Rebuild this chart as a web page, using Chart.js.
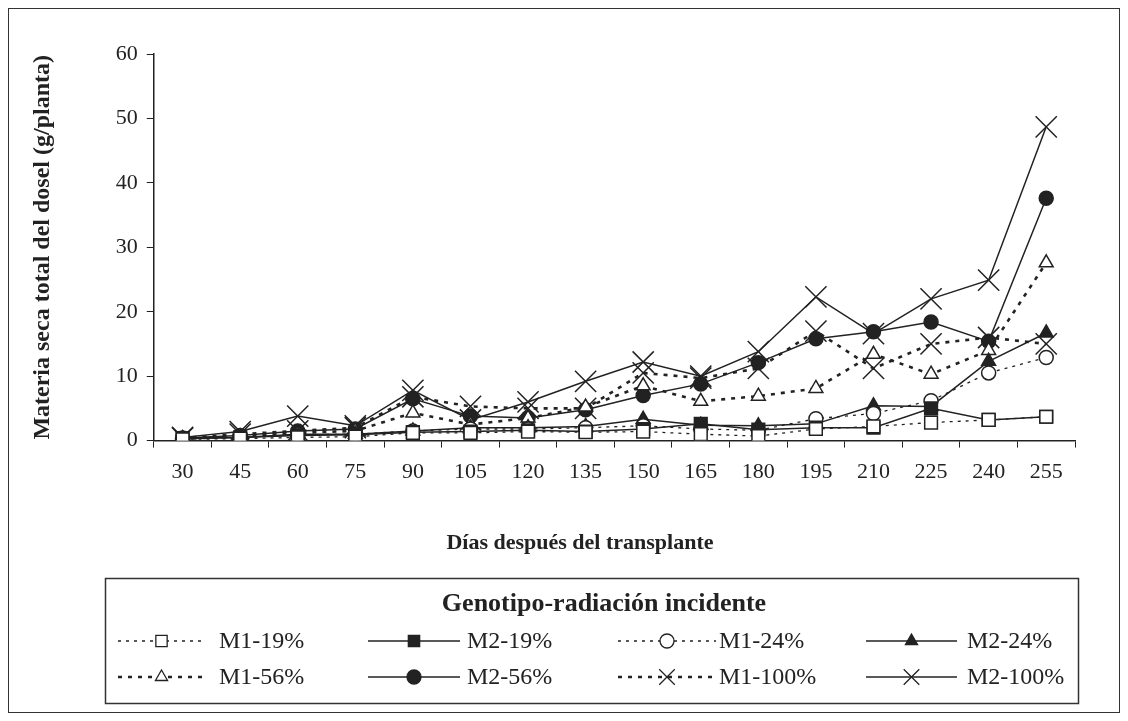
<!DOCTYPE html>
<html>
<head>
<meta charset="utf-8">
<script src="https://cdn.jsdelivr.net/npm/chart.js@4.4.1/dist/chart.umd.min.js"></script>
<style>
  html, body { margin: 0; padding: 0; background: #fff; }
  #wrap { width: 1128px; height: 721px; position: relative; }
</style>
</head>
<body>
<div id="wrap"><canvas id="chart1" width="1128" height="721"></canvas></div>
<script>
// Days after transplant
const days = ['30', '45', '60', '75', '90', '105', '120', '135', '150', '165', '180', '195', '210', '225', '240', '255'];

// Total canopy dry matter (g/plant)
const m1_19 = [0.2, 0.3, 0.5, 0.6, 1.2, 1.2, 1.4, 1.3, 1.4, 1.0, 0.7, 1.8, 2.2, 2.8, 3.2, 3.7];
const m2_19 = [0.4, 0.5, 0.8, 0.9, 1.3, 1.4, 1.6, 1.4, 1.8, 2.6, 1.7, 2.0, 2.0, 5.0, 3.2, 3.7];
const m1_24 = [0.3, 0.5, 0.9, 1.0, 1.5, 1.8, 1.8, 2.0, 2.3, 1.8, 1.6, 3.4, 4.2, 6.2, 10.5, 12.9];
const m2_24 = [0.3, 0.5, 1.0, 1.0, 1.5, 2.0, 2.0, 2.2, 3.3, 2.4, 2.3, 2.6, 5.4, 5.3, 12.3, 16.7];
const m1_56 = [0.3, 0.6, 1.2, 1.5, 4.3, 2.5, 3.5, 5.2, 8.5, 6.1, 6.9, 8.1, 13.4, 10.3, 14.0, 27.6];
const m2_56 = [0.4, 0.8, 1.5, 1.8, 6.5, 3.8, 3.5, 4.8, 7.0, 8.8, 12.1, 15.8, 16.9, 18.4, 15.4, 37.6];
const m1_100 = [0.4, 1.0, 1.5, 2.0, 6.8, 5.3, 5.0, 5.0, 10.5, 9.7, 11.2, 17.0, 11.2, 15.0, 16.0, 15.0];
const m2_100 = [0.5, 1.4, 3.8, 2.3, 7.8, 3.2, 6.0, 9.2, 12.2, 10.0, 13.8, 22.3, 16.6, 22.0, 24.9, 48.7];

const yTicks = [0, 10, 20, 30, 40, 50, 60];

const serif = "'Liberation Serif', 'DejaVu Serif', serif";
const ink = '#222';

function series(label, data, style, marker, open) {
    const thinDot = style === 'thin';
    const thickDot = style === 'thick';
    let r = 7;
    if (marker === 'crossRot') r = 15;
    if (marker === 'rect') r = 9;
    if (marker === 'triangle') r = 8;
    return {
        label: label,
        data: data,
        borderColor: ink,
        borderWidth: thickDot ? 2.6 : (thinDot ? 1.3 : 1.5),
        borderDash: thickDot ? [4, 6] : (thinDot ? [3, 5] : []),
        pointStyle: marker,
        pointRadius: r,
        pointBorderWidth: 1.5,
        pointBorderColor: ink,
        pointBackgroundColor: open ? '#fff' : ink,
        tension: 0,
        fill: false
    };
}

const datasets = [
    series('M1-19%', m1_19, 'thin', 'rect', true),
    series('M2-19%', m2_19, 'solid', 'rect', false),
    series('M1-24%', m1_24, 'thin', 'circle', true),
    series('M2-24%', m2_24, 'solid', 'triangle', false),
    series('M1-56%', m1_56, 'thick', 'triangle', true),
    series('M2-56%', m2_56, 'solid', 'circle', false),
    series('M1-100%', m1_100, 'thick', 'crossRot', true),
    series('M2-100%', m2_100, 'solid', 'crossRot', false)
];

// Draws the x title, the framed legend box and the outer border
const legendBox = {
    id: 'legendBox',
    afterDraw(chart) {
        const ctx = chart.ctx;
        ctx.save();
        ctx.strokeStyle = '#333';
        ctx.lineWidth = 1;
        ctx.strokeRect(8.5, 8.5, 1111, 704);
        ctx.lineWidth = 1.5;
        ctx.strokeRect(105.5, 578.5, 973, 125);

        ctx.fillStyle = ink;
        ctx.textAlign = 'center';
        ctx.textBaseline = 'middle';
        ctx.font = 'bold 22px ' + serif;
        ctx.fillText('Días después del transplante', 580, 543);

        ctx.font = 'bold 26px ' + serif;
        ctx.fillText('Genotipo-radiación incidente', 604, 604);

        const cols = [[118, 205, 219], [368, 460, 467], [618, 716, 719], [866, 957, 967]];
        const rows = [641, 677];
        ctx.font = '24px ' + serif;
        ctx.textAlign = 'left';
        datasets.forEach((ds, i) => {
            const c = cols[i % 4];
            const y = rows[Math.floor(i / 4)];
            ctx.beginPath();
            ctx.strokeStyle = ink;
            ctx.lineWidth = ds.borderWidth;
            ctx.setLineDash(ds.borderDash);
            ctx.moveTo(c[0], y);
            ctx.lineTo(c[1], y);
            ctx.stroke();
            ctx.setLineDash([]);
            const mx = (c[0] + c[1]) / 2;
            ctx.fillStyle = ds.pointBackgroundColor;
            ctx.strokeStyle = ink;
            ctx.lineWidth = 1.3;
            Chart.helpers.drawPoint(ctx, {
                pointStyle: ds.pointStyle,
                radius: ds.pointStyle === 'crossRot' ? 11 : (ds.pointStyle === 'rect' ? 8 : 7),
                rotation: 0,
                borderWidth: 1.3
            }, mx, y);
            ctx.fillStyle = ink;
            ctx.fillText(ds.label, c[2], y + 1);
        });
        ctx.restore();
    }
};

new Chart(document.getElementById('chart1').getContext('2d'), {
    type: 'line',
    data: {
        labels: days,
        datasets: datasets
    },
    options: {
        responsive: false,
        animation: false,
        layout: {
            padding: { top: 54, right: 53, bottom: 225, left: 16 }
        },
        plugins: {
            legend: { display: false },
            tooltip: { enabled: false }
        },
        scales: {
            x: {
                type: 'category',
                offset: true,
                grid: {
                    offset: true,
                    drawOnChartArea: false,
                    tickLength: 7,
                    color: ink
                },
                border: { color: ink, width: 1.5 },
                ticks: {
                    color: ink,
                    font: { family: serif, size: 22 },
                    padding: 11,
                    maxRotation: 0
                }
            },
            y: {
                min: 0,
                max: 60,
                afterBuildTicks(scale) {
                    scale.ticks = yTicks.map(v => ({ value: v }));
                },
                grid: {
                    drawOnChartArea: false,
                    tickLength: 7,
                    color: ink
                },
                border: { color: ink, width: 1.5 },
                ticks: {
                    color: ink,
                    font: { family: serif, size: 22 },
                    padding: 9
                },
                title: {
                    display: true,
                    text: 'Materia seca total del dosel (g/planta)',
                    color: ink,
                    font: { family: serif, size: 24, weight: 'bold' },
                    padding: { top: 12, bottom: 50 }
                }
            }
        }
    },
    plugins: [legendBox]
});
</script>
</body>
</html>
